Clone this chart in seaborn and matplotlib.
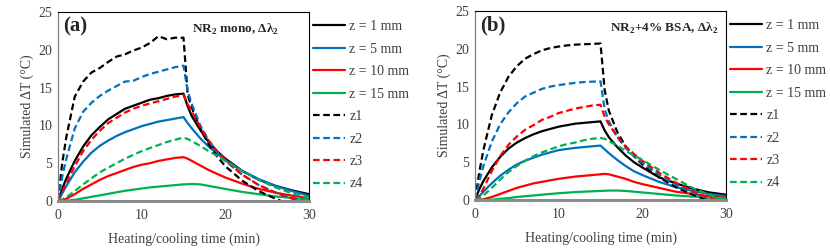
"""Simulated temperature rise during heating/cooling, two NR2 samples."""
import numpy as np
import pandas as pd
import matplotlib
matplotlib.use("Agg")
import matplotlib.pyplot as plt
from matplotlib.ticker import MultipleLocator
import seaborn as sns

time_min = [0, 0.5, 1, 2, 3, 4, 5, 6, 7, 8, 9, 10, 11, 12, 13, 14, 15,
            15.5, 16, 17, 18, 19, 20, 22, 24, 26, 28, 30]

labels = ["z = 1 mm", "z = 5 mm", "z = 10 mm", "z = 15 mm", "z1", "z2", "z3", "z4"]
colors = ["#000000", "#0070C0", "#FF0000", "#00B050"] * 2

# panel (a): NR2 mono
mono = {
    "z = 1 mm": [0, 1.6, 3.0, 5.3, 7.2, 8.7, 9.8, 10.8, 11.5, 12.2, 12.6, 13.0, 13.4, 13.6, 13.9, 14.1, 14.2,
                 12.5, 11.2, 9.4, 7.8, 6.6, 5.6, 4.0, 2.8, 2.0, 1.4, 0.9],
    "z = 5 mm": [0, 1.0, 2.0, 3.8, 5.2, 6.4, 7.3, 8.0, 8.6, 9.1, 9.5, 9.9, 10.2, 10.5, 10.7, 10.9, 11.1,
                 10.3, 9.6, 8.3, 7.2, 6.3, 5.4, 4.0, 2.9, 2.0, 1.3, 0.7],
    "z = 10 mm": [0, 0.1, 0.3, 0.9, 1.6, 2.2, 2.8, 3.3, 3.7, 4.1, 4.5, 4.8, 5.0, 5.3, 5.5, 5.7, 5.8,
                  5.6, 5.3, 4.7, 4.1, 3.6, 3.1, 2.3, 1.6, 1.1, 0.7, 0.4],
    "z = 15 mm": [0, 0.0, 0.05, 0.15, 0.35, 0.55, 0.75, 0.95, 1.15, 1.35, 1.5, 1.65, 1.8, 1.9, 2.0, 2.1, 2.2,
                  2.22, 2.25, 2.2, 2.0, 1.8, 1.6, 1.2, 0.9, 0.6, 0.4, 0.2],
    "z1": [0, 5.0, 8.5, 13.8, 15.8, 17.0, 17.6, 18.4, 19.1, 19.4, 19.9, 20.3, 20.9, 21.8, 21.4, 21.6, 21.6,
           14.0, 12.3, 9.6, 7.5, 5.9, 4.6, 2.7, 1.3, 0.3, -0.6, -1.2],
    "z2": [0, 3.2, 5.6, 9.6, 11.8, 13.0, 13.9, 14.6, 15.2, 15.8, 15.9, 16.4, 16.8, 17.1, 17.4, 17.7, 17.9,
           14.5, 12.8, 10.0, 8.0, 6.5, 5.3, 3.5, 2.1, 1.1, 0.4, -0.2],
    "z3": [0, 1.2, 2.4, 4.6, 6.6, 8.1, 9.3, 10.3, 11.0, 11.7, 12.2, 12.6, 12.9, 13.2, 13.5, 13.8, 14.0,
           12.8, 11.8, 9.8, 8.0, 6.6, 5.4, 3.5, 2.1, 1.1, 0.3, -0.3],
    "z4": [0, 0.2, 0.5, 1.3, 2.2, 3.0, 3.8, 4.4, 5.0, 5.6, 6.1, 6.6, 7.0, 7.4, 7.8, 8.1, 8.4,
           8.2, 7.9, 7.3, 6.6, 6.0, 5.3, 4.0, 2.8, 1.8, 1.0, 0.4],
}

# panel (b): NR2 + 4% BSA
bsa = {
    "z = 1 mm": [0, 1.4, 2.5, 4.3, 5.7, 6.8, 7.6, 8.2, 8.7, 9.1, 9.4, 9.7, 9.9, 10.1, 10.2, 10.3, 10.4,
                 9.2, 8.3, 7.0, 5.9, 5.0, 4.3, 3.0, 2.2, 1.5, 1.0, 0.7],
    "z = 5 mm": [0, 0.5, 1.1, 2.2, 3.2, 4.0, 4.7, 5.2, 5.6, 6.0, 6.3, 6.6, 6.75, 6.9, 7.0, 7.1, 7.2,
                 6.7, 6.2, 5.3, 4.5, 3.8, 3.3, 2.4, 1.7, 1.2, 0.8, 0.5],
    "z = 10 mm": [0, 0.02, 0.1, 0.4, 0.8, 1.2, 1.6, 1.9, 2.2, 2.4, 2.6, 2.8, 2.95, 3.1, 3.2, 3.3, 3.4,
                  3.45, 3.4, 3.1, 2.8, 2.4, 2.1, 1.6, 1.1, 0.8, 0.5, 0.3],
    "z = 15 mm": [0, 0.0, 0.01, 0.05, 0.15, 0.25, 0.4, 0.5, 0.6, 0.7, 0.8, 0.9, 0.97, 1.05, 1.1, 1.15, 1.2,
                  1.22, 1.25, 1.25, 1.2, 1.1, 1.0, 0.8, 0.6, 0.45, 0.3, 0.2],
    "z1": [0, 3.6, 6.6, 11.2, 14.2, 16.3, 17.7, 18.7, 19.3, 19.8, 20.1, 20.3, 20.45, 20.55, 20.6, 20.65, 20.7,
           14.5, 11.8, 9.0, 7.1, 5.8, 4.7, 3.0, 1.7, 0.7, -0.1, -0.6],
    "z2": [0, 2.4, 4.5, 7.7, 10.0, 11.6, 12.8, 13.7, 14.2, 14.7, 15.0, 15.2, 15.35, 15.5, 15.6, 15.65, 15.7,
           12.0, 10.4, 8.3, 6.9, 5.8, 4.9, 3.3, 2.0, 1.0, 0.1, -0.4],
    "z3": [0, 0.5, 1.5, 3.8, 5.8, 7.3, 8.4, 9.3, 9.9, 10.6, 11.0, 11.5, 11.8, 12.1, 12.3, 12.5, 12.6,
           11.0, 10.0, 8.4, 7.1, 6.1, 5.2, 3.6, 2.3, 1.2, 0.2, -0.3],
    "z4": [0, 0.2, 0.6, 1.6, 2.7, 3.7, 4.5, 5.2, 5.8, 6.3, 6.7, 7.1, 7.4, 7.6, 7.9, 8.1, 8.2,
           8.1, 7.8, 7.2, 6.5, 5.9, 5.3, 4.0, 2.8, 1.6, 0.7, 0.1],
}

panel_tags = ["(a)", "(b)"]
panel_titles = [r"NR$_\mathbf{2}$ mono, Δλ$_\mathbf{2}$", r"NR$_\mathbf{2}$+4% BSA, Δλ$_\mathbf{2}$"]


def to_long(series: dict) -> pd.DataFrame:
    frames = [pd.DataFrame({"time": time_min, "dT": vals, "curve": name})
              for name, vals in series.items()]
    return pd.concat(frames, ignore_index=True)


sns.set_theme(style="white")
plt.rcParams["font.family"] = ["Liberation Serif", "DejaVu Serif"]
plt.rcParams["mathtext.fontset"] = "custom"
plt.rcParams["mathtext.rm"] = "Liberation Serif"
plt.rcParams["mathtext.bf"] = "Liberation Serif:bold"

text_col = "#404040"
palette = dict(zip(labels, colors))
dashes = {lab: ("" if i < 4 else (3, 1.6)) for i, lab in enumerate(labels)}

fig = plt.figure(figsize=(8.3, 2.5), dpi=100)
axes = [fig.add_axes([0.0699, 0.196, 0.3024, 0.756]),
        fig.add_axes([0.5723, 0.200, 0.3024, 0.756])]

for ax, data, tag, title in zip(axes, [mono, bsa], panel_tags, panel_titles):
    df = to_long(data)
    sns.lineplot(data=df, x="time", y="dT", hue="curve", style="curve",
                 hue_order=labels, style_order=labels, palette=palette,
                 dashes=dashes, estimator=None, errorbar=None, sort=False,
                 linewidth=1.6, ax=ax)
    ax.set_xlim(0, 30)
    ax.set_ylim(0, 25)
    ax.xaxis.set_major_locator(MultipleLocator(10))
    ax.xaxis.set_minor_locator(MultipleLocator(2))
    ax.yaxis.set_major_locator(MultipleLocator(5))
    ax.yaxis.set_minor_locator(MultipleLocator(1))
    ax.tick_params(which="both", direction="in", length=3, width=0.8,
                   color="#7f7f7f", labelsize=10, labelcolor=text_col, pad=4)
    ax.tick_params(axis="x", which="major", length=0, pad=6)
    ax.tick_params(axis="y", which="major", length=3)
    for side in ["top", "right"]:
        ax.spines[side].set_color("black")
        ax.spines[side].set_linewidth(0.8)
    ax.spines["left"].set_color("#7f7f7f")
    ax.spines["left"].set_linewidth(0.9)
    ax.spines["bottom"].set_color("#8c8c8c")
    ax.spines["bottom"].set_linewidth(2.2)
    ax.set_xlabel("Heating/cooling time (min)", fontsize=10, color=text_col, labelpad=7)
    ax.set_ylabel("Simulated ΔT (°C)", fontsize=10, color=text_col, labelpad=3)
    ax.text(0.02, 0.925, tag, transform=ax.transAxes, fontsize=15,
            fontweight="bold", va="center", ha="left")
    ax.text(0.88 if tag == "(a)" else 0.97, 0.91, title, transform=ax.transAxes,
            fontsize=9.5, fontweight="bold", va="center", ha="right")
    leg = ax.legend(loc="upper left", bbox_to_anchor=(0.983, 1.0), frameon=False,
                    fontsize=10, handlelength=2.3, handletextpad=0.3,
                    labelspacing=0.68, borderaxespad=0.0, borderpad=0.6)
    for t in leg.get_texts():
        t.set_color(text_col)
    for h in leg.get_lines():
        h.set_linewidth(1.6)

fig.savefig("out.png", dpi=100, facecolor="white")
